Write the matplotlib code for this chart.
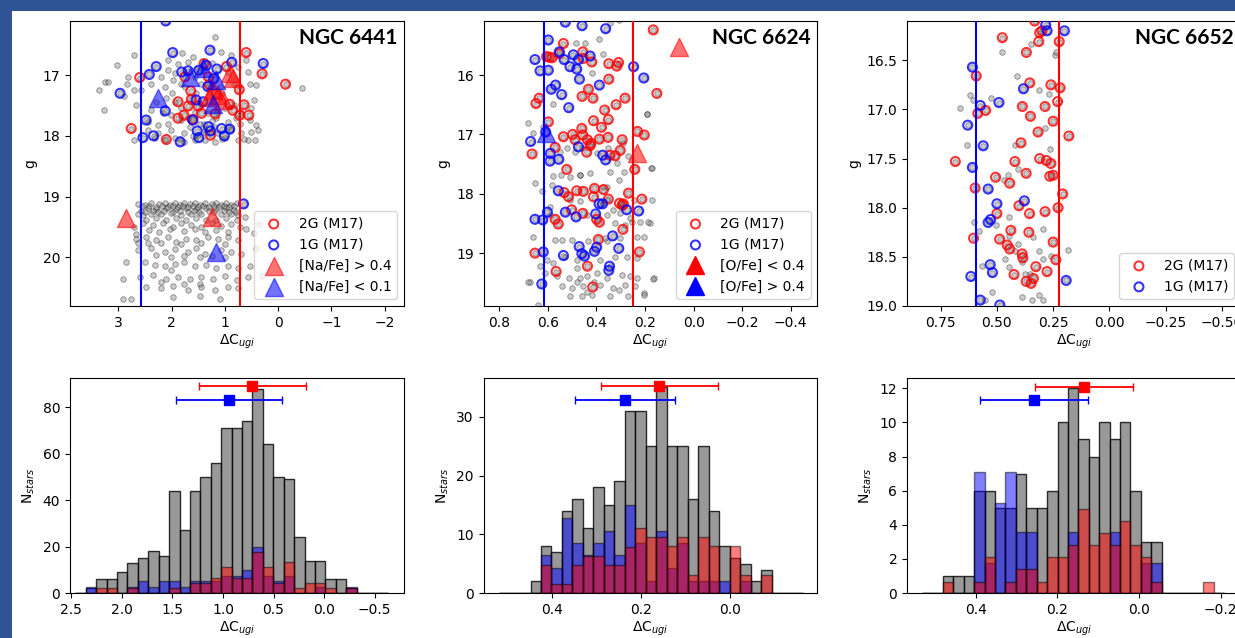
import numpy as np
import matplotlib.pyplot as plt
from matplotlib.patches import Rectangle
from matplotlib.lines import Line2D

# ---------------- NGC 6441 : scatter ----------------
n6441_gray_x = [1.19, 2.71, 3.02, 3.26, 3.36, 3.20, 2.82, 2.84, 2.70, 2.89, 3.27, 1.80, 1.60, 2.07, 1.88,
                1.69, 1.07, 0.88, 0.60, 2.07, 1.94, 2.20, 2.38, 2.13, 1.98, 1.82, 1.57, 1.44, 1.41, 0.75,
                0.56, 0.53, 0.41, -0.44, 0.45, 2.10, 2.29, 1.94, 2.38, 2.16, 2.01, 1.82, 1.57, 1.32, 1.00,
                0.82, 0.69, 2.45, 2.26, 2.07, 1.82, 1.66, 1.47, 1.16, 0.94, 0.72, 0.53, 0.41, 2.45, 2.26,
                2.01, 1.76, 1.51, 1.38, 1.13, 0.88, 0.69, 0.50, 0.38, 2.70, 2.32, 2.13, 1.94, 1.76, 1.57,
                1.38, 1.19, 1.00, 0.75, 0.56, 0.44, 2.57, 2.67, 0.50, 0.82, 1.10,
                1.05, 1.15, 1.25, 1.45, 1.55, 1.70, 1.35, 0.95, 1.05, 1.60, 1.85, 0.65, 1.20, 0.80, 1.40,
                0.95, 1.25, 1.55, 1.75, 2.00,
                2.63, 2.51, 2.38, 2.23, 2.13, 2.04, 1.94, 1.85, 1.76, 1.66, 1.57, 1.47, 1.38, 1.25, 1.16,
                1.07, 0.97, 0.88, 0.78, 2.45, 2.29, 2.10, 1.91, 1.73, 1.54, 1.35, 1.16, 0.97, 0.82, 2.57,
                2.56, 2.42, 2.30, 2.18, 2.06, 1.97, 1.88, 1.79, 1.70, 1.60, 1.51, 1.42, 1.30, 1.20, 1.11,
                1.02, 0.92, 0.83, 2.50, 2.35, 2.25, 2.15, 1.98, 1.85, 1.70, 1.58, 1.48, 1.30, 1.20, 1.02,
                0.92, 0.80,
                2.54, 2.38, 2.20, 2.01, 1.82, 1.63, 1.44, 1.07, 0.88, 0.75, 2.48, 2.29, 2.10, 1.91, 1.73,
                1.54, 1.35, 1.16, 0.97, 0.78, 2.63, 0.63,
                2.70, 2.54, 2.35, 2.16, 1.98, 1.82, 1.63, 1.44, 1.25, 1.07, 0.88, 0.72, 2.42, 2.23, 2.04,
                1.76, 1.57, 1.38, 1.16, 0.94, 0.60, 2.67,
                2.67, 2.48, 2.29, 2.07, 1.91, 1.73, 1.54, 1.32, 1.13, 0.94, 0.75, 2.45, 2.20, 1.82, 1.44,
                1.00, 2.63,
                2.63, 2.38, 2.13, 1.94, 1.69, 1.54, 1.38, 1.07, 0.88, 0.69, 2.29, 2.01, 1.76, 1.47, 1.25,
                1.00,
                2.85, 2.51, 2.32, 2.13, 1.94, 1.76, 1.57, 1.35, 1.16, 0.94, 0.75, 0.53, 2.01,
                2.92, 2.60, 2.35, 2.10, 1.88, 1.66, 1.44, 1.22, 1.00, 0.78, 0.56, 2.20, 1.76, 1.47,
                2.48, 2.20, 1.98, 1.69, 1.44, 1.19, 0.94, 0.75, 1.98, 1.47, 1.10, 2.92, 2.76,
                0.45, 0.42, 0.30, 0.35]
n6441_gray_g = [16.37, 16.67, 16.83, 17.11, 17.24, 17.11, 17.03, 17.15, 17.24, 17.34, 17.58, 16.63, 16.70, 16.75, 16.81,
                16.78, 16.62, 16.67, 16.75, 16.92, 16.97, 17.03, 17.14, 17.19, 17.08, 17.14, 17.03, 17.14, 16.92, 16.86,
                16.95, 17.14, 17.17, 17.22, 17.41, 17.38, 17.44, 17.44, 17.58, 17.63, 17.66, 17.55, 17.60, 17.63, 17.55,
                17.49, 17.63, 17.77, 17.82, 17.80, 17.74, 17.85, 17.80, 17.71, 17.77, 17.80, 17.74, 17.82, 17.91, 17.96,
                17.91, 17.96, 17.99, 17.91, 17.96, 17.91, 17.96, 17.93, 17.91, 18.07, 18.04, 18.07, 18.03, 18.10, 18.07,
                18.07, 18.10, 18.04, 18.07, 18.07, 18.07, 17.25, 17.49, 17.55, 17.14, 17.19,
                17.30, 17.60, 17.75, 17.50, 17.30, 17.70, 17.95, 17.85, 18.05, 18.00, 18.05, 18.05, 17.85, 17.70, 17.80,
                16.95, 16.80, 16.90, 17.20, 17.30,
                19.12, 19.14, 19.11, 19.12, 19.10, 19.14, 19.11, 19.14, 19.10, 19.12, 19.11, 19.14, 19.11, 19.12, 19.10,
                19.14, 19.11, 19.14, 19.11, 19.19, 19.21, 19.19, 19.21, 19.19, 19.21, 19.19, 19.21, 19.19, 19.22, 19.23,
                19.16, 19.15, 19.17, 19.16, 19.17, 19.16, 19.17, 19.16, 19.17, 19.16, 19.17, 19.16, 19.17, 19.16, 19.17,
                19.16, 19.17, 19.16, 19.25, 19.24, 19.25, 19.24, 19.25, 19.24, 19.25, 19.24, 19.25, 19.24, 19.25, 19.24,
                19.25, 19.26,
                19.30, 19.28, 19.29, 19.27, 19.30, 19.28, 19.29, 19.29, 19.28, 19.30, 19.38, 19.36, 19.38, 19.36, 19.39,
                19.36, 19.38, 19.39, 19.36, 19.38, 19.28, 19.33,
                19.50, 19.44, 19.47, 19.43, 19.50, 19.44, 19.47, 19.50, 19.44, 19.49, 19.45, 19.50, 19.55, 19.58, 19.54,
                19.56, 19.54, 19.58, 19.55, 19.58, 19.54, 19.61,
                19.69, 19.66, 19.72, 19.66, 19.74, 19.69, 19.72, 19.66, 19.70, 19.66, 19.72, 19.77, 19.77, 19.78, 19.77,
                19.78, 19.77,
                19.88, 19.85, 19.91, 19.87, 19.91, 19.85, 19.94, 19.88, 19.91, 19.94, 19.96, 19.99, 19.98, 19.99, 19.98,
                19.99,
                20.07, 20.07, 20.13, 20.14, 20.11, 20.07, 20.15, 20.13, 20.18, 20.15, 20.18, 20.15, 20.21,
                20.35, 20.32, 20.29, 20.35, 20.32, 20.36, 20.33, 20.35, 20.31, 20.37, 20.32, 20.40, 20.43, 20.43,
                20.48, 20.51, 20.47, 20.54, 20.49, 20.54, 20.48, 20.51, 20.66, 20.64, 20.68, 20.68, 20.68,
                19.60, 19.85, 20.30, 19.45]
n6441_2g_x = [0.60, 0.30, -0.14, 2.60, 1.75, 1.39, 1.31, 0.97, 0.73, 0.64, 0.55, 0.72, 1.64, 1.63, 1.88,
              1.69, 1.77, 1.88, 1.61, 1.18, 2.76, 2.10, 1.27, 1.44, 1.50, 1.29, 1.16, 0.91, 0.85]
n6441_2g_g = [16.63, 16.98, 17.15, 17.04, 17.03, 16.81, 17.03, 16.86, 17.24, 17.49, 17.66, 17.66, 17.26, 17.40, 17.44,
              17.51, 17.66, 17.71, 17.73, 17.64, 17.88, 18.06, 17.99, 17.63, 17.51, 17.16, 17.31, 17.48, 17.58]
n6441_1g_x = [2.11, 1.98, 1.28, 0.87, 0.28, 2.29, 2.42, 1.81, 1.69, 1.49, 1.35, 1.15, 1.21, 2.97, 2.12,
              2.48, 2.34, 2.54, 1.84, 1.60, 1.52, 1.49, 1.31, 1.27, 1.06, 0.91, 1.01, 1.41, 1.54, 1.32, 0.65]
n6441_1g_g = [16.11, 16.63, 16.59, 16.79, 16.81, 16.86, 16.99, 16.95, 16.93, 16.92, 16.84, 16.90, 17.06, 17.30, 17.59,
              17.74, 18.00, 18.03, 18.10, 17.74, 17.92, 18.03, 17.85, 17.92, 17.88, 17.89, 18.00, 17.44, 17.41, 17.19, 19.12]
n6441_nahi_x = [1.22, 1.13, 1.29, 0.85, 0.91, 1.04, 2.85, 1.24]
n6441_nahi_g = [17.25, 17.33, 17.36, 17.05, 16.97, 17.41, 19.36, 19.34]
n6441_nalo_x = [2.25, 1.41, 1.66, 1.17, 1.16, 1.22]
n6441_nalo_g = [17.38, 16.89, 17.03, 19.91, 17.08, 17.47]
n6441_cut_1g, n6441_cut_2g = 2.57, 0.71

# ---------------- NGC 6624 : scatter ----------------
n6624_gray_x = [0.653, 0.577, 0.547, 0.584, 0.467, 0.426, 0.344, 0.309, 0.357, 0.286, 0.175, 0.625, 0.591, 0.509,
                0.467, 0.371, 0.357, 0.330, 0.247, 0.289, 0.172, 0.591, 0.440, 0.357, 0.302, 0.261, 0.220, 0.179,
                0.323, 0.282, 0.254, 0.660, 0.570, 0.543, 0.502, 0.433, 0.357, 0.302, 0.364, 0.234, 0.206, 0.605,
                0.632, 0.529, 0.481, 0.385, 0.323, 0.275, 0.234, 0.612, 0.577, 0.564, 0.515, 0.467, 0.481, 0.440,
                0.399, 0.357, 0.296, 0.261, 0.234, 0.674, 0.543, 0.502, 0.454, 0.412, 0.385, 0.330, 0.282, 0.241,
                0.206, 0.509, 0.460, 0.419, 0.344, 0.309, 0.268, 0.165, 0.639, 0.481, 0.440,
                0.344, 0.309, 0.485, 0.449, 0.390, 0.371, 0.419, 0.680, 0.192, 0.190, 0.577, 0.660, 0.619, 0.172,
                0.186, 0.203, 0.168, 0.682,
                0.550, 0.522, 0.488, 0.460, 0.399, 0.351, 0.289, 0.268, 0.509, 0.467, 0.371, 0.316]
n6624_gray_g = [17.82, 17.70, 17.68, 17.85, 17.68, 17.65, 17.63, 17.77, 17.88, 17.63, 17.57, 17.96, 18.22, 18.10,
                18.13, 18.16, 18.10, 18.27, 18.10, 18.22, 18.10, 18.36, 18.36, 18.36, 18.33, 18.41, 18.47, 18.50,
                18.50, 18.52, 18.47, 18.72, 18.78, 18.78, 18.78, 18.80, 18.80, 18.75, 18.75, 18.72, 18.72, 19.11,
                19.22, 19.06, 19.11, 19.11, 19.06, 19.06, 19.08, 19.34, 19.17, 19.39, 19.42, 19.42, 19.25, 19.39,
                19.34, 19.42, 19.36, 19.39, 19.42, 19.48, 19.56, 19.59, 19.56, 19.48, 19.53, 19.59, 19.53, 19.56,
                19.67, 19.73, 19.73, 19.70, 19.73, 19.62, 19.73, 19.42, 19.88, 19.48, 19.65,
                15.12, 15.07, 15.46, 15.46, 15.40, 15.64, 15.97, 16.81, 16.65, 16.66, 16.48, 16.98, 16.87, 17.57,
                18.47, 19.70, 19.44, 19.49,
                17.29, 17.23, 17.29, 17.23, 17.32, 17.23, 17.15, 17.37, 17.71, 17.68, 17.88, 17.49]
n6624_2g_x = [0.166, 0.536, 0.605, 0.594, 0.583, 0.553, 0.456, 0.454, 0.419, 0.349, 0.309, 0.316, 0.349, 0.433,
              0.459, 0.414, 0.282, 0.319, 0.151, 0.636, 0.649, 0.366, 0.598, 0.412, 0.351, 0.379, 0.460, 0.498,
              0.536, 0.456, 0.488, 0.437, 0.423, 0.426, 0.388, 0.352, 0.294, 0.570, 0.440, 0.302, 0.344, 0.323,
              0.665, 0.522, 0.231, 0.203, 0.242, 0.533, 0.515, 0.481, 0.454, 0.408, 0.371, 0.412, 0.351, 0.268,
              0.213, 0.305, 0.294, 0.289, 0.502, 0.456, 0.399, 0.388, 0.570, 0.557, 0.392, 0.291, 0.223, 0.653,
              0.566, 0.437, 0.415]
n6624_2g_g = [15.24, 15.47, 15.69, 15.70, 15.71, 15.64, 15.61, 15.72, 15.78, 15.81, 15.79, 15.85, 16.07, 16.24,
              16.36, 16.39, 16.39, 16.50, 16.31, 16.39, 16.48, 16.59, 16.79, 16.77, 16.75, 16.88, 16.90, 17.00,
              17.04, 17.01, 17.09, 17.09, 17.15, 17.19, 17.08, 17.05, 17.09, 17.22, 17.30, 17.27, 17.35, 17.36,
              17.33, 17.59, 16.95, 17.01, 17.59, 17.98, 18.05, 17.95, 17.96, 17.91, 17.93, 18.05, 18.09, 17.99,
              18.09, 18.16, 18.19, 18.17, 18.27, 18.33, 18.43, 18.48, 18.43, 18.51, 18.77, 18.60, 18.98, 19.00,
              19.31, 19.22, 19.57]
n6624_1g_x = [0.528, 0.459, 0.362, 0.598, 0.653, 0.553, 0.495, 0.426, 0.533, 0.474, 0.632, 0.598, 0.509, 0.481,
              0.470, 0.388, 0.247, 0.205, 0.568, 0.586, 0.543, 0.514, 0.609, 0.671, 0.590, 0.591, 0.555, 0.474,
              0.374, 0.362, 0.557, 0.528, 0.484, 0.602, 0.653, 0.621, 0.389, 0.375, 0.403, 0.275, 0.226, 0.333,
              0.471, 0.460, 0.449, 0.408, 0.399, 0.308, 0.536, 0.619, 0.346, 0.349, 0.625]
n6624_1g_g = [15.11, 15.17, 15.22, 15.41, 15.74, 15.61, 15.66, 15.68, 15.74, 15.74, 15.93, 15.92, 15.86, 15.90,
              16.07, 16.17, 15.86, 16.05, 16.17, 16.24, 16.33, 16.55, 16.96, 17.12, 17.32, 17.45, 17.42, 17.21,
              17.35, 17.43, 17.95, 18.31, 18.39, 18.31, 18.43, 18.44, 18.17, 18.17, 18.34, 18.27, 18.29, 18.71,
              18.89, 19.01, 19.05, 18.97, 18.90, 18.92, 19.04, 18.98, 19.22, 19.29, 19.52]
n6624_olo_x = [0.06, 0.234]
n6624_olo_g = [15.52, 17.32]
n6624_ohi_x = [0.608]
n6624_ohi_g = [16.98]
n6624_cut_1g, n6624_cut_2g = 0.617, 0.25

# ---------------- NGC 6652 : scatter ----------------
n6652_gray_x = [0.479, 0.348, 0.240, 0.237, 0.410, 0.314, 0.268, 0.620, 0.606, 0.525, 0.665, 0.287, 0.634, 0.418,
                0.265, 0.449, 0.470, 0.405, 0.448, 0.604, 0.506, 0.580, 0.296, 0.339, 0.448, 0.408, 0.186, 0.418,
                0.315, 0.463, 0.259, 0.293, 0.388, 0.446, 0.568, 0.375, 0.351, 0.521, 0.388, 0.314, 0.344, 0.295,
                0.552]
n6652_gray_g = [16.42, 16.33, 16.45, 16.42, 16.66, 16.80, 16.84, 16.85, 16.90, 16.88, 16.99, 17.19, 17.36, 17.36,
                17.40, 17.67, 17.72, 17.61, 18.09, 18.15, 18.18, 18.24, 18.22, 18.30, 18.29, 18.37, 18.43, 18.44,
                18.44, 18.52, 18.49, 18.52, 18.55, 18.60, 18.59, 18.67, 18.67, 18.86, 18.91, 18.89, 18.94, 18.94,
                18.94]
n6652_2g_x = [0.332, 0.310, 0.300, 0.476, 0.314, 0.223, 0.369, 0.592, 0.354, 0.260, 0.219, 0.230, 0.387, 0.286,
              0.550, 0.585, 0.351, 0.250, 0.317, 0.180, 0.393, 0.685, 0.420, 0.310, 0.280, 0.260, 0.370, 0.506,
              0.265, 0.250, 0.443, 0.597, 0.208, 0.402, 0.228, 0.500, 0.355, 0.286, 0.438, 0.358, 0.604, 0.488,
              0.454, 0.443, 0.250, 0.388, 0.385, 0.238, 0.327, 0.424, 0.277, 0.338, 0.370, 0.348]
n6652_2g_g = [16.10, 16.22, 16.20, 16.27, 16.31, 16.31, 16.42, 16.66, 16.73, 16.75, 16.78, 16.92, 16.97, 16.97,
              17.01, 17.04, 17.07, 17.12, 17.23, 17.27, 17.34, 17.53, 17.53, 17.50, 17.52, 17.55, 17.65, 17.69,
              17.68, 17.67, 17.75, 17.80, 17.86, 17.98, 18.00, 18.06, 18.06, 18.04, 18.23, 18.25, 18.31, 18.32,
              18.38, 18.42, 18.35, 18.47, 18.51, 18.53, 18.60, 18.68, 18.65, 18.72, 18.75, 18.77]
n6652_1g_x = [0.283, 0.277, 0.200, 0.609, 0.382, 0.574, 0.491, 0.630, 0.561, 0.609, 0.539, 0.500, 0.378, 0.528,
              0.539, 0.530, 0.520, 0.616, 0.192, 0.574, 0.487]
n6652_1g_g = [16.14, 16.20, 16.20, 16.57, 16.79, 16.96, 16.93, 17.16, 17.37, 17.59, 17.81, 17.96, 17.93, 18.12,
              18.15, 18.58, 18.66, 18.70, 18.74, 18.94, 18.99]
n6652_cut_1g, n6652_cut_2g = 0.593, 0.224

# ---------------- histograms (counts per bin, 2G/1G rescaled) ----------------
h6441_edges = (2.461, -0.632, 30)
h6441_all = [0, 2, 6, 6, 9, 13, 15, 18, 16, 44, 27, 44, 50, 56, 71, 71, 74, 88, 64, 50, 49, 24, 14, 14, 6, 6, 2, 0, 0, 0]
h6441_1g = [0, 2.5, 0, 0, 0, 2.5, 5, 2.5, 5, 5, 2.5, 5, 5, 5, 7.5, 7.5, 10, 20, 7.5, 5, 7.5, 0, 0, 2.5, 0, 0, 2.5, 0, 0, 0]
h6441_2g = [0, 0, 2.2, 2.2, 0, 2.2, 0, 0, 0, 2.2, 0, 4.4, 4.4, 6.6, 11, 6.6, 6.6, 17.6, 11, 4.4, 13.2, 2.2, 4.4, 4.4, 2.2, 0, 2.2, 0, 0, 0]
h6441_err_2g = (0.71, 89, 0.53)
h6441_err_1g = (0.94, 83, 0.525)

h6624_edges = (0.52, -0.165, 29)
h6624_all = [0, 0, 0, 2, 8, 7, 14, 16, 11, 18, 15, 19, 31, 31, 25, 35, 25, 25, 16, 25, 14, 8, 6, 5, 2, 4, 0, 0, 0]
h6624_1g = [0, 0, 0, 0, 6.4, 4.2, 12.8, 8.5, 6.4, 8.5, 10.6, 6.4, 15, 8.5, 2.1, 10.6, 4.2, 8.5, 2.1, 2.1, 2.1, 2.1, 0, 2.1, 0, 0, 0, 0, 0]
h6624_2g = [0, 0, 0, 0, 4.7, 1.6, 1.6, 4.7, 6.3, 6.3, 4.7, 4.7, 7.9, 11, 9.5, 9.5, 8, 9.5, 3.1, 9.5, 8, 0, 8, 3.1, 0, 3.1, 0, 0, 0]
h6624_err_2g = (0.159, 35.2, 0.131)
h6624_err_1g = (0.236, 32.9, 0.113)

h6652_edges = (0.532, -0.209, 29)
h6652_all = [0, 0, 1, 1, 1, 6, 6, 5, 5, 7, 5, 5, 6, 10, 12, 9, 8, 10, 9, 10, 6, 3, 3, 0, 0, 0, 0, 0, 0]
h6652_1g = [0, 0, 0, 0, 0, 7.08, 1.76, 5.3, 7.08, 3.57, 3.57, 0, 0, 0, 3.57, 0, 0, 0, 3.57, 0, 0, 1.76, 1.76, 0, 0, 0, 0, 0, 0]
h6652_2g = [0, 0, 0.67, 0, 0, 0.67, 2.1, 0, 0.67, 1.4, 1.4, 0.67, 2.1, 2.1, 2.8, 4.9, 2.8, 3.5, 2.8, 4.2, 2.8, 2.1, 0.67, 0, 0, 0, 0, 0.67, 0]
h6652_err_2g = (0.135, 12.1, 0.12)
h6652_err_1g = (0.257, 11.3, 0.133)

xlab = r'$\Delta$C$_{ugi}$'

fig = plt.figure(figsize=(12.35, 6.38), dpi=100, facecolor='#2E5496')
fig.add_artist(Rectangle((12 / 1235, 0), 1, 1 - 11 / 638, transform=fig.transFigure,
                         facecolor='white', edgecolor='none', zorder=-10))

lefts = [0.0567, 0.3915, 0.7344]
w = 0.2704


def scatter_panel(ax, gx, gg, x2, g2, x1, g1, cut1, cut2, name):
    # every star in grey, the M17 classification drawn on top as open circles
    ax.scatter(list(gx) + list(x2) + list(x1), list(gg) + list(g2) + list(g1),
               s=16, c='grey', edgecolors='k', linewidths=0.6, alpha=0.4, zorder=2)
    ax.scatter(x2, g2, s=42, facecolors='none', edgecolors='red', linewidths=1.5, alpha=0.8,
               label='2G (M17)', zorder=3)
    ax.scatter(x1, g1, s=42, facecolors='none', edgecolors='blue', linewidths=1.5, alpha=0.8,
               label='1G (M17)', zorder=3)
    ax.axvline(cut1, color='blue', lw=1.5, zorder=4)
    ax.axvline(cut2, color='red', lw=1.5, zorder=4)
    ax.set_ylabel('g')
    ax.set_xlabel(xlab, labelpad=2)
    ax.text(0.979, 0.975, name, transform=ax.transAxes, ha='right', va='top',
            fontsize=15, fontweight='bold', family='Lato', zorder=6)


# NGC 6441
ax1 = fig.add_axes([lefts[0], 0.5204, w, 0.4467])
scatter_panel(ax1, n6441_gray_x, n6441_gray_g, n6441_2g_x, n6441_2g_g, n6441_1g_x, n6441_1g_g,
              n6441_cut_1g, n6441_cut_2g, 'NGC 6441')
ax1.scatter(n6441_nahi_x, n6441_nahi_g, marker='^', s=170, color='red', alpha=0.55,
            label='[Na/Fe] > 0.4', zorder=5)
ax1.scatter(n6441_nalo_x, n6441_nalo_g, marker='^', s=170, color='blue', alpha=0.55,
            label='[Na/Fe] < 0.1', zorder=5)
ax1.set_xlim(3.91, -2.365)
ax1.set_ylim(20.8, 16.11)
ax1.set_xticks([3, 2, 1, 0, -1, -2])
ax1.set_yticks([17, 18, 19, 20])
ax1.legend(loc='lower right')

# NGC 6624
ax2 = fig.add_axes([lefts[1], 0.5204, w, 0.4467])
scatter_panel(ax2, n6624_gray_x, n6624_gray_g, n6624_2g_x, n6624_2g_g, n6624_1g_x, n6624_1g_g,
              n6624_cut_1g, n6624_cut_2g, 'NGC 6624')
ax2.scatter(n6624_olo_x, n6624_olo_g, marker='^', s=170, color='red', alpha=0.55, zorder=5)
ax2.scatter(n6624_ohi_x, n6624_ohi_g, marker='^', s=170, color='blue', alpha=0.55, zorder=5)
ax2.set_xlim(0.865, -0.51)
ax2.set_ylim(19.89, 15.09)
ax2.set_xticks([0.8, 0.6, 0.4, 0.2, 0.0, -0.2, -0.4])
ax2.set_yticks([16, 17, 18, 19])
h, l = ax2.get_legend_handles_labels()
h += [Line2D([], [], marker='^', ls='none', color='red', markersize=13),
      Line2D([], [], marker='^', ls='none', color='blue', markersize=13)]
l += ['[O/Fe] < 0.4', '[O/Fe] > 0.4']
ax2.legend(h, l, loc='lower right')

# NGC 6652
ax3 = fig.add_axes([lefts[2], 0.5204, w, 0.4467])
scatter_panel(ax3, n6652_gray_x, n6652_gray_g, n6652_2g_x, n6652_2g_g, n6652_1g_x, n6652_1g_g,
              n6652_cut_1g, n6652_cut_2g, 'NGC 6652')
ax3.set_xlim(0.9, -0.585)
ax3.set_ylim(19.0, 16.1)
ax3.set_xticks([0.75, 0.5, 0.25, 0.0, -0.25, -0.5])
ax3.set_yticks([16.5, 17.0, 17.5, 18.0, 18.5, 19.0])
ax3.legend(loc='lower right')


def hist_panel(ax, edges, n_all, n1, n2, e2, e1):
    ed = np.linspace(edges[0], edges[1], edges[2] + 1)
    left = ed[:-1]
    wd = ed[1] - ed[0]
    ax.bar(left, n_all, width=wd, align='edge', color='grey', edgecolor='k', alpha=0.8, lw=1)
    ax.bar(left, n1, width=wd, align='edge', color='blue', edgecolor='k', alpha=0.5, lw=1)
    ax.bar(left, n2, width=wd, align='edge', color='red', edgecolor='k', alpha=0.5, lw=1)
    ax.errorbar(e2[0], e2[1], xerr=e2[2], fmt='s', color='red', ms=7, capsize=3, lw=1.3)
    ax.errorbar(e1[0], e1[1], xerr=e1[2], fmt='s', color='blue', ms=7, capsize=3, lw=1.3)
    ax.set_ylabel(r'N$_{stars}$')
    ax.set_xlabel(xlab, labelpad=2)


ax4 = fig.add_axes([lefts[0], 0.0705, w, 0.337])
hist_panel(ax4, h6441_edges, h6441_all, h6441_1g, h6441_2g, h6441_err_2g, h6441_err_1g)
ax4.set_xlim(2.513, -0.79)
ax4.set_ylim(0, 92.6)
ax4.set_xticks([2.5, 2.0, 1.5, 1.0, 0.5, 0.0, -0.5])

ax5 = fig.add_axes([lefts[1], 0.0705, w, 0.337])
hist_panel(ax5, h6624_edges, h6624_all, h6624_1g, h6624_2g, h6624_err_2g, h6624_err_1g)
ax5.set_xlim(0.555, -0.197)
ax5.set_ylim(0, 36.6)
ax5.set_xticks([0.4, 0.2, 0.0])

ax6 = fig.add_axes([lefts[2], 0.0705, w, 0.337])
hist_panel(ax6, h6652_edges, h6652_all, h6652_1g, h6652_2g, h6652_err_2g, h6652_err_1g)
ax6.set_xlim(0.569, -0.25)
ax6.set_ylim(0, 12.6)
ax6.set_xticks([0.4, 0.2, 0.0, -0.2])

fig.savefig('out.png', dpi=100, facecolor=fig.get_facecolor())
